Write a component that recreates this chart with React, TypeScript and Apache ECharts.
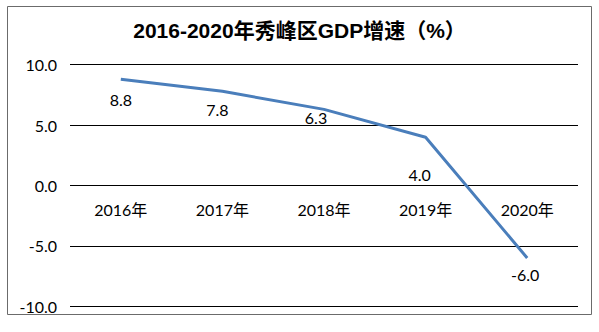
import React, { useEffect, useRef } from "react";
import * as echarts from "echarts";

const titleText = "2016-2020年秀峰区GDP增速（%）";
const categories = ["2016年", "2017年", "2018年", "2019年", "2020年"];
const growth = [8.8, 7.8, 6.3, 4.0, -6.0];
const yMin = -10;
const yMax = 10;
const yStep = 5;

// label placement nudges (px from each point), as placed in the original
const labelNudge: [number, number][] = [
  [0, 20],
  [-5, 18],
  [-8, 8],
  [-6, 37],
  [-2, 17],
];

const FONT = "Lato, 'Noto Sans CJK SC', sans-serif";
const GRID_TOP = 64.7;
const GRID_BOTTOM = 25.7;
const GRID_H = 332 - GRID_TOP - GRID_BOTTOM;

export default function App() {
  const ref = useRef<HTMLDivElement>(null);
  useEffect(() => {
    if (!ref.current) return;
    const chart = echarts.init(ref.current, null, { renderer: "svg" });
    const zeroOffset = -GRID_H * ((0 - yMin) / (yMax - yMin));
    chart.setOption({
      animation: false,
      backgroundColor: "#ffffff",
      title: {
        text: titleText,
        left: "center",
        top: 15,
        textStyle: {
          fontFamily: "'Liberation Sans', Arial, 'Noto Sans CJK SC', sans-serif",
          fontWeight: "bold",
          fontSize: 21,
          color: "#000",
        },
      },
      graphic: [
        {
          type: "rect",
          shape: { x: 7.5, y: 6.5, width: 584, height: 308 },
          style: { fill: "none", stroke: "#6b6b6b", lineWidth: 1 },
          silent: true,
        },
      ],
      grid: {
        left: 70,
        right: 21,
        top: GRID_TOP,
        bottom: GRID_BOTTOM,
        containLabel: false,
        outerBoundsMode: "none",
      },
      xAxis: {
        type: "category",
        data: categories,
        boundaryGap: true,
        position: "bottom",
        offset: zeroOffset,
        axisLine: { show: false, onZero: false },
        axisTick: { show: false },
        axisLabel: {
          fontFamily: FONT,
          fontSize: 16,
          color: "#000",
          margin: 16,
        },
      },
      yAxis: {
        type: "value",
        min: yMin,
        max: yMax,
        interval: yStep,
        axisLine: { show: false },
        axisTick: { show: false },
        splitLine: { lineStyle: { color: "#000", width: 1 } },
        axisLabel: {
          fontFamily: FONT,
          fontSize: 16,
          color: "#000",
          margin: 13,
          formatter: (v: number) => v.toFixed(1),
        },
      },
      series: [
        {
          type: "line",
          data: growth.map((v, i) => ({
            value: v,
            label: { offset: labelNudge[i] },
          })),
          symbol: "circle",
          symbolSize: 1,
          showSymbol: true,
          itemStyle: { color: "rgba(74,126,187,0)" },
          lineStyle: { color: "#4a7ebb", width: 3 },
          label: {
            show: true,
            position: "inside",
            align: "center",
            verticalAlign: "middle",
            fontFamily: FONT,
            fontSize: 16,
            color: "#000",
            formatter: (p: any) => Number(p.value).toFixed(1),
          },
        },
      ],
    });
    return () => chart.dispose();
  }, []);
  return (
    <div
      ref={ref}
      style={{ position: "fixed", left: 0, top: 0, width: 599, height: 332 }}
    />
  );
}
